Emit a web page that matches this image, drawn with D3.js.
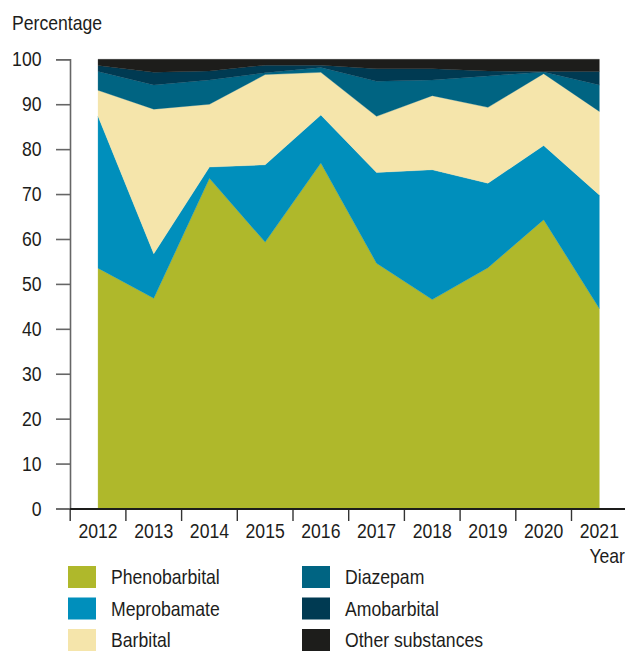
<!DOCTYPE html>
<html>
<head>
<meta charset="utf-8">
<script src="https://cdn.jsdelivr.net/npm/d3@7"></script>
<style>
  body { margin: 0; background: #fff; }
  svg text { font-family: "Liberation Sans", Arial, sans-serif; fill: #1d1d1b; }
</style>
</head>
<body>
<svg width="625" height="651"></svg>
<script>
var years = [2012, 2013, 2014, 2015, 2016, 2017, 2018, 2019, 2020, 2021];
var phenobarbital = [53.5, 46.8, 73.5, 59.3, 76.9, 54.6, 46.5, 53.6, 64.3, 44.5];
var meprobamate   = [33.8, 9.9, 2.5, 17.2, 10.7, 20.2, 28.9, 18.8, 16.5, 25.3];
var barbital      = [5.8, 32.2, 14.0, 20.1, 9.5, 12.5, 16.5, 16.9, 16.0, 18.6];
var diazepam      = [4.2, 5.4, 5.4, 0.4, 1.1, 7.8, 3.5, 7.0, 0.4, 5.9];
var amobarbital   = [1.3, 2.8, 2.0, 1.7, 0.5, 2.8, 2.5, 1.1, 0.1, 3.0];
var other         = [1.4, 2.9, 2.6, 1.3, 1.3, 2.1, 2.1, 2.6, 2.7, 2.7];
var yTicks = [0, 10, 20, 30, 40, 50, 60, 70, 80, 90, 100];

var keys = ["Phenobarbital", "Meprobamate", "Barbital", "Diazepam", "Amobarbital", "Other substances"];
var colors = ["#afb82b", "#008fbc", "#f5e5ab", "#006482", "#003a52", "#1d1d1b"];
var series = [phenobarbital, meprobamate, barbital, diazepam, amobarbital, other];

var FS = 20.5;     // font size
var NARROW = 0.86; // horizontal squeeze, the original uses a condensed face

// squeeze text horizontally around its own anchor x
function condense(sel) {
  sel.each(function() {
    var t = d3.select(this);
    var ax = +t.attr("x") || 0;
    t.attr("transform", "translate(" + ax + ",0) scale(" + NARROW + ",1) translate(" + (-ax) + ",0)");
  });
}

// table for d3.stack
var table = years.map(function(y, i) {
  var row = { year: y };
  keys.forEach(function(k, j) { row[k] = series[j][i]; });
  return row;
});

var svg = d3.select("svg");

var x = d3.scaleBand().domain(years).range([70.2, 627.2]).padding(0);
var y = d3.scaleLinear().domain([0, 100]).range([508.5, 59.3]);
var color = d3.scaleOrdinal().domain(keys).range(colors);

var stacked = d3.stack().keys(keys)(table);

var area = d3.area()
  .x(function(d) { return x(d.data.year) + x.bandwidth() / 2; })
  .y0(function(d) { return y(d[0]); })
  .y1(function(d) { return y(d[1]); });

svg.append("g")
  .selectAll("path")
  .data(stacked)
  .enter().append("path")
  .attr("d", area)
  .attr("fill", function(d) { return color(d.key); })
  .attr("stroke", function(d) { return color(d.key); })
  .attr("stroke-width", 0.3);

// y axis
var yAxis = svg.append("g")
  .attr("transform", "translate(70,0)")
  .call(d3.axisLeft(y).tickValues(yTicks).tickSize(14).tickPadding(14.5));
yAxis.select(".domain").attr("stroke", "#666").attr("stroke-width", 1.6);
yAxis.selectAll(".tick line").attr("stroke", "#666").attr("stroke-width", 1.6);
yAxis.selectAll("text")
  .attr("font-size", FS).attr("fill", "#1d1d1b")
  .style("font-family", "'Liberation Sans', Arial, sans-serif")
  .call(condense);

// x axis
var xAxis = svg.append("g")
  .attr("transform", "translate(0,509)")
  .call(d3.axisBottom(x).tickSize(0).tickPadding(14.5));
xAxis.select(".domain").remove();
xAxis.append("line")
  .attr("x1", 70).attr("x2", 625)
  .attr("stroke", "#1d1d1b").attr("stroke-width", 2);
xAxis.selectAll(".tick").append("line")
  .attr("x1", -x.bandwidth() / 2).attr("x2", -x.bandwidth() / 2)
  .attr("y1", 0).attr("y2", 12)
  .attr("stroke", "#333").attr("stroke-width", 1.4);
xAxis.selectAll("text")
  .attr("font-size", FS).attr("fill", "#1d1d1b")
  .style("font-family", "'Liberation Sans', Arial, sans-serif")
  .call(condense);

svg.append("text")
  .attr("x", 12).attr("y", 30)
  .attr("font-size", FS)
  .text("Percentage")
  .call(condense);

svg.append("text")
  .attr("x", 625).attr("y", 563)
  .attr("text-anchor", "end")
  .attr("font-size", FS)
  .text("Year")
  .call(condense);

// legend
var legend = svg.append("g");
var item = legend.selectAll("g")
  .data(keys)
  .enter().append("g")
  .attr("transform", function(d, i) {
    var col = Math.floor(i / 3), row = i % 3;
    return "translate(" + (68 + col * 234) + "," + (566 + row * 31.5) + ")";
  });
item.append("rect")
  .attr("width", 28).attr("height", 22)
  .attr("fill", function(d) { return color(d); });
item.append("text")
  .attr("x", 43).attr("y", 18.5)
  .attr("font-size", FS)
  .text(function(d) { return d; })
  .call(condense);
</script>
</body>
</html>
